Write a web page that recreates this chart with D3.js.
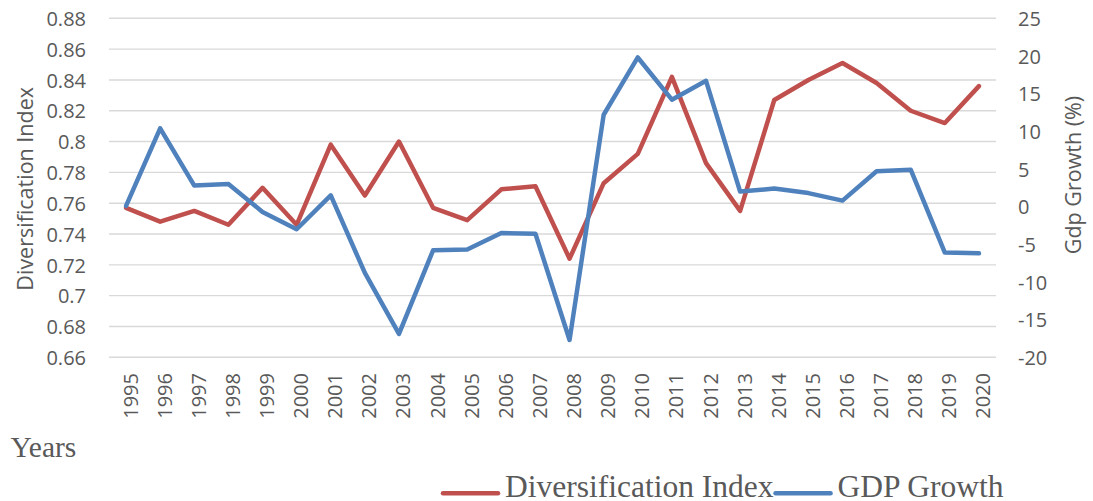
<!DOCTYPE html>
<html>
<head>
<meta charset="utf-8">
<script src="https://cdn.jsdelivr.net/npm/d3@7"></script>
<style>
  html, body { margin: 0; padding: 0; background: #fff; }
  svg { display: block; }
</style>
</head>
<body>
<svg id="chart" width="1093" height="501"></svg>
<script>
const years = [1995,1996,1997,1998,1999,2000,2001,2002,2003,2004,2005,2006,2007,2008,2009,2010,2011,2012,2013,2014,2015,2016,2017,2018,2019,2020];
const diversificationIndex = [0.757,0.748,0.755,0.746,0.770,0.746,0.798,0.765,0.800,0.757,0.749,0.769,0.771,0.724,0.773,0.792,0.842,0.786,0.755,0.827,0.840,0.851,0.838,0.820,0.812,0.836];
const gdpGrowth = [0.1,10.4,2.8,3.0,-0.7,-3.0,1.5,-8.8,-16.9,-5.8,-5.7,-3.5,-3.6,-17.7,12.2,19.8,14.2,16.7,2.0,2.4,1.8,0.8,4.7,4.9,-6.1,-6.2];
const leftTicks = [0.66,0.68,0.70,0.72,0.74,0.76,0.78,0.80,0.82,0.84,0.86,0.88];
const rightTicks = [-20,-15,-10,-5,0,5,10,15,20,25];
const seriesNames = ["Diversification Index", "GDP Growth"];
const colors = ["#C0504D", "#4F81BD"];

const svg = d3.select("#chart");
const plot = { left: 109, right: 996, top: 18.3, bottom: 357.3 };
const textColor = "#595959";
const sans = "'Open Sans', sans-serif";
const serif = "'Liberation Serif', 'Times New Roman', serif";

const x = d3.scalePoint().domain(years).range([plot.left, plot.right]).padding(0.5);
const yL = d3.scaleLinear().domain([0.66, 0.88]).range([plot.bottom, plot.top]);
const yR = d3.scaleLinear().domain([-20, 25]).range([plot.bottom, plot.top]);

// gridlines
svg.append("g").selectAll("line").data(leftTicks).join("line")
  .attr("x1", plot.left).attr("x2", plot.right)
  .attr("y1", d => yL(d)).attr("y2", d => yL(d))
  .attr("stroke", "#D9D9D9").attr("stroke-width", 1.4);

// left axis
const fmtL = d => String(+d.toFixed(2));
const gL = svg.append("g").attr("transform", `translate(86,0)`)
  .call(d3.axisLeft(yL).tickValues(leftTicks).tickSize(0).tickPadding(0).tickFormat(fmtL));
gL.select(".domain").remove();
gL.selectAll("text").attr("fill", textColor).style("font-family", sans).style("font-size", "20px").attr("dy", "0.36em");

// right axis
const gR = svg.append("g").attr("transform", `translate(1018,0)`)
  .call(d3.axisRight(yR).tickValues(rightTicks).tickSize(0).tickPadding(0).tickFormat(d => String(d)));
gR.select(".domain").remove();
gR.selectAll("text").attr("fill", textColor).style("font-family", sans).style("font-size", "20px").attr("dy", "0.36em");

// x axis labels
const gX = svg.append("g").attr("transform", `translate(0,373)`)
  .call(d3.axisBottom(x).tickSize(0).tickPadding(0));
gX.select(".domain").remove();
gX.selectAll(".tick text")
  .attr("fill", textColor).style("font-family", sans).style("font-size", "20px")
  .attr("text-anchor", "end").attr("y", 0).attr("dy", 0)
  .attr("transform", "translate(11,0) rotate(-90)");

// axis titles
svg.append("text").text("Diversification Index")
  .attr("transform", `translate(33,${(plot.top+plot.bottom)/2 + 1}) rotate(-90)`)
  .attr("text-anchor", "middle").attr("fill", textColor)
  .style("font-family", sans).style("font-size", "21.5px");
svg.append("text").text("Gdp Growth (%)")
  .attr("transform", `translate(1081,175) rotate(-90)`)
  .attr("text-anchor", "middle").attr("fill", textColor)
  .style("font-family", sans).style("font-size", "21.5px");

svg.append("text").text("Years")
  .attr("x", 10.5).attr("y", 456.5).attr("fill", textColor)
  .style("font-family", serif).style("font-size", "29.5px");

// lines
const lineL = d3.line().x((d, i) => x(years[i])).y(d => yL(d));
const lineR = d3.line().x((d, i) => x(years[i])).y(d => yR(d));
svg.append("path").datum(diversificationIndex).attr("d", lineL)
  .attr("fill", "none").attr("stroke", colors[0]).attr("stroke-width", 4.5)
  .attr("stroke-linejoin", "round").attr("stroke-linecap", "round");
svg.append("path").datum(gdpGrowth).attr("d", lineR)
  .attr("fill", "none").attr("stroke", colors[1]).attr("stroke-width", 4.5)
  .attr("stroke-linejoin", "round").attr("stroke-linecap", "round");

// legend
const legend = svg.append("g");
let lx = 443;
seriesNames.forEach((name, i) => {
  legend.append("line").attr("x1", lx).attr("x2", lx + 55)
    .attr("y1", 493.3).attr("y2", 493.3)
    .attr("stroke", colors[i]).attr("stroke-width", 4.5).attr("stroke-linecap", "round");
  const t = legend.append("text").text(name)
    .attr("x", lx + 62).attr("y", 497).attr("fill", textColor)
    .style("font-family", serif).style("font-size", "31.5px");
  lx = lx + 62 + t.node().getComputedTextLength() + 2;
});
</script>
</body>
</html>
